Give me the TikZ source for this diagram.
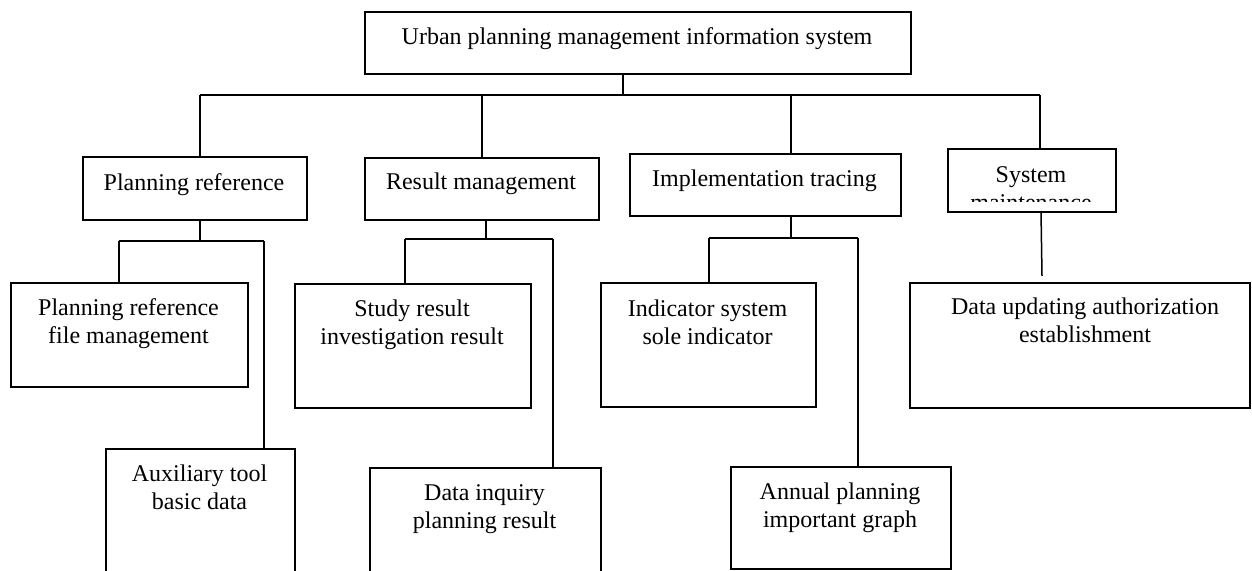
\documentclass[tikz,border=0pt]{standalone}
\usepackage{fontspec}
\setmainfont{Liberation Serif}
\begin{document}
\begin{tikzpicture}[x=1pt,y=-1pt,
  box/.style={draw, line width=1.5pt, inner sep=0pt, anchor=north west},
  lbl/.style={font=\fontsize{24}{28}\selectfont, align=center, anchor=north, inner sep=0pt},
  conn/.style={line width=1.5pt}]
\clip (0,0) rectangle (1252,570);
% boxes
\node[box, minimum width=546pt, minimum height=62pt] (top) at (364,11) {};
\node[box, minimum width=224pt, minimum height=63pt] (pr) at (82,156) {};
\node[box, minimum width=234pt, minimum height=62pt] (rm) at (364,157) {};
\node[box, minimum width=271pt, minimum height=62pt] (it) at (629,153) {};
\node[box, minimum width=168pt, minimum height=63pt] (sm) at (947,148) {};
\node[box, minimum width=237pt, minimum height=104pt] (a1) at (10,282) {};
\node[box, minimum width=189pt, minimum height=140pt] (a2) at (105,448) {};
\node[box, minimum width=236pt, minimum height=124pt] (b1) at (294,283) {};
\node[box, minimum width=231pt, minimum height=120pt] (b2) at (369,467) {};
\node[box, minimum width=215pt, minimum height=124pt] (c1) at (600,282) {};
\node[box, minimum width=220pt, minimum height=102pt] (c2) at (730,466) {};
\node[box, minimum width=340pt, minimum height=125pt] (d1) at (909,282) {};
% labels
\node[lbl] (ttop) at (637,27) {Urban planning management information system};
\node[lbl] (tpr) at (194,173) {Planning reference};
\node[lbl] (trm) at (481,173) {Result management};
\node[lbl] (tit) at (764.5,170) {Implementation tracing};
\begin{scope}
\clip (948,149) rectangle (1114,201);
\node[lbl] (tsm) at (1031,166) {System\\maintenance};
\end{scope}
\node[lbl] (ta1) at (128.5,298) {Planning reference\\file management};
\node[lbl] (ta2) at (199.5,465) {Auxiliary tool\\basic data};
\node[lbl] (tb1) at (412,300) {Study result\\investigation result};
\node[lbl] (tb2) at (484.5,484) {Data inquiry\\planning result};
\node[lbl] (tc1) at (707.5,300) {Indicator system\\sole indicator};
\node[lbl] (tc2) at (840,483) {Annual planning\\important graph};
\node[lbl] (td1) at (1085,298) {Data updating authorization\\establishment};
% level 1 connectors
\coordinate (bus0) at (623,95);
\coordinate (busL) at (200,95);
\coordinate (busR) at (1040,95);
\coordinate (busI) at (791,95);
\draw[conn] (top.south -| bus0) -- (bus0);
\draw[conn] (busL) -- (busR);
\draw[conn] (busL) -- (busL |- pr.north);
\draw[conn] (rm.north |- busL) -- (rm.north);
\draw[conn] (busI) -- (busI |- it.north);
\draw[conn] (busR) -- (busR |- sm.north);
% under planning reference
\coordinate (pj) at (200,241);
\coordinate (pl) at (119,241);
\coordinate (pr2) at (264,241);
\draw[conn] (pj |- pr.south) -- (pj);
\draw[conn] (pl) -- (pr2);
\draw[conn] (pl) -- (pl |- a1.north);
\draw[conn] (pr2) -- (pr2 |- a2.north);
% under result management
\coordinate (rj) at (486,239);
\coordinate (rl) at (405,239);
\coordinate (rr) at (553,239);
\draw[conn] (rj |- rm.south) -- (rj);
\draw[conn] (rl) -- (rr);
\draw[conn] (rl) -- (rl |- b1.north);
\draw[conn] (rr) -- (rr |- b2.north);
% under implementation tracing
\coordinate (ij) at (791,238);
\coordinate (il) at (709,238);
\coordinate (ir) at (858,238);
\draw[conn] (ij |- it.south) -- (ij);
\draw[conn] (il) -- (ir);
\draw[conn] (il) -- (il |- c1.north);
\draw[conn] (ir) -- (ir |- c2.north);
% under system maintenance
\coordinate (sj) at (1041,211);
\coordinate (se) at (1042,276);
\draw[conn] (sj) -- (se);
\end{tikzpicture}
\end{document}
